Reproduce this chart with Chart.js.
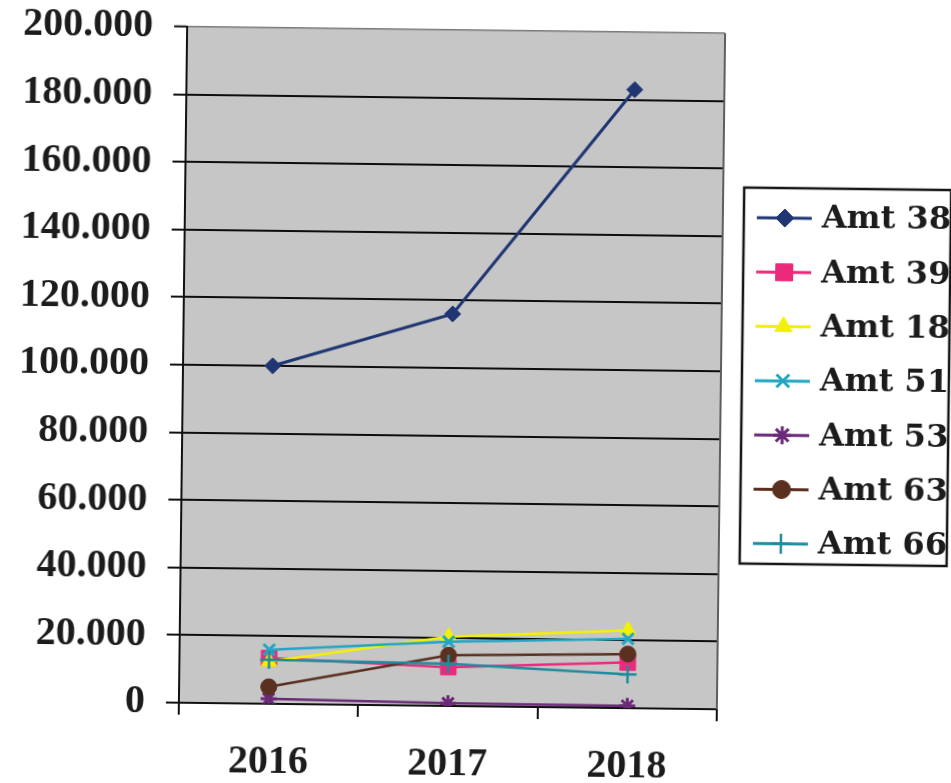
<!DOCTYPE html>
<html>
<head>
<meta charset="utf-8">
<script src="https://cdn.jsdelivr.net/npm/chart.js@4/dist/chart.umd.min.js"></script>
<style>
  html, body { margin: 0; padding: 0; background: #fff; overflow: hidden; }
  #wrap { position: relative; width: 951px; height: 783px; }
  #c { position: absolute; left: 0; top: 0; transform: rotate(0.7deg); transform-origin: 452px 368px; }
</style>
</head>
<body>
<div id="wrap"><canvas id="c" width="951" height="783"></canvas></div>
<script>
// Yearly amounts per account
const years = ['2016', '2017', '2018'];
const seriesNames = ['Amt 38', 'Amt 39', 'Amt 18', 'Amt 51', 'Amt 53', 'Amt 63', 'Amt 66'];
const amt38 = [100000, 116000, 183000];
const amt39 = [13500, 11500, 13500];
const amt18 = [12500, 20500, 23000];
const amt51 = [16000, 19000, 20500];
const amt53 = [1500, 800, 700];
const amt63 = [5000, 15000, 16000];
const amt66 = [13000, 12500, 10000];
const yMax = 200000;
const yStep = 20000;

const seriesValues = [amt38, amt39, amt18, amt51, amt53, amt63, amt66];

// Look of each series: line colour, marker shape, marker size
const looks = [
  { color: '#1f3672', point: 'rectRot',  r: 8,  bw: 1,   lw: 3 },
  { color: '#ec2a7c', point: 'rect',     r: 11, bw: 1,   lw: 2.5 },
  { color: '#f2f200', point: 'triangle', r: 9,  bw: 1,   lw: 2.5 },
  { color: '#22a6c4', point: 'crossRot', r: 8,  bw: 3,   lw: 2.5 },
  { color: '#6a2a78', point: 'star',     r: 8,  bw: 3,   lw: 2.5 },
  { color: '#5a3020', point: 'circle',   r: 8,  bw: 1,   lw: 2.5 },
  { color: '#1e8c9e', point: 'cross',    r: 9,  bw: 2.5, lw: 2.5 }
];

// 200000 -> "200.000"
const fmt = v => String(v).replace(/\B(?=(\d{3})+(?!\d))/g, '.');

const datasets = seriesNames.map((name, i) => ({
  label: name,
  data: seriesValues[i],
  borderColor: looks[i].color,
  backgroundColor: looks[i].color,
  borderWidth: looks[i].lw,
  pointStyle: looks[i].point,
  pointRadius: looks[i].r,
  pointBorderWidth: looks[i].bw,
  pointBackgroundColor: looks[i].color,
  pointBorderColor: looks[i].color,
  fill: false,
  tension: 0,
  order: seriesNames.length - i
}));

const plotBackground = {
  id: 'plotBackground',
  beforeDraw(chart) {
    const { ctx, chartArea: a } = chart;
    ctx.save();
    ctx.fillStyle = '#c6c6c6';
    ctx.fillRect(a.left, a.top, a.right - a.left, a.bottom - a.top);
    ctx.restore();
  },
  beforeDatasetsDraw(chart) {
    const { ctx, chartArea: a } = chart;
    ctx.save();
    ctx.strokeStyle = '#5e5e5e';
    ctx.lineWidth = 2;
    ctx.beginPath();
    ctx.moveTo(a.right, a.top);
    ctx.lineTo(a.right, a.bottom);
    ctx.stroke();
    ctx.restore();
  }
};

// Boxed legend on the right: line with marker, then the series name
const boxLegend = {
  id: 'boxLegend',
  afterDraw(chart) {
    const ctx = chart.ctx;
    const left = 742, top = 184, w = 207, h = 376;
    ctx.save();
    ctx.fillStyle = '#ffffff';
    ctx.fillRect(left, top, w, h);
    ctx.strokeStyle = '#151515';
    ctx.lineWidth = 2.5;
    ctx.strokeRect(left, top, w, h);
    chart.data.datasets.forEach((ds, i) => {
      const y = top + 30 + i * 54.3;
      ctx.strokeStyle = ds.borderColor;
      ctx.lineWidth = 3;
      ctx.beginPath();
      ctx.moveTo(755, y);
      ctx.lineTo(810, y);
      ctx.stroke();
      ctx.fillStyle = ds.pointBackgroundColor;
      ctx.strokeStyle = ds.pointBorderColor;
      ctx.lineWidth = ds.pointBorderWidth;
      if (Chart.helpers && Chart.helpers.drawPoint) {
        Chart.helpers.drawPoint(ctx, {
          pointStyle: ds.pointStyle,
          radius: ds.pointRadius + 1,
          rotation: 0,
          borderWidth: ds.pointBorderWidth
        }, 783, y);
      }
      ctx.fillStyle = '#1c1c1c';
      ctx.font = 'bold 32px "DejaVu Serif"';
      ctx.textBaseline = 'middle';
      ctx.textAlign = 'left';
      ctx.fillText(ds.label, 820, y + 1);
    });
    ctx.restore();
  }
};

const axisFont = { family: '"Liberation Serif", serif', size: 40, weight: 'bold' };

new Chart(document.getElementById('c'), {
  type: 'line',
  data: { labels: years, datasets },
  options: {
    responsive: false,
    animation: false,
    layout: { padding: { top: 30, right: 230, left: 0, bottom: 0 } },
    plugins: { legend: { display: false }, tooltip: { enabled: false } },
    scales: {
      x: {
        offset: true,
        grid: { offset: true, drawOnChartArea: false, drawTicks: true, tickLength: 12, color: '#111', lineWidth: 2 },
        border: { color: '#111', width: 2 },
        ticks: { font: axisFont, color: '#1c1c1c', padding: 23 },
        afterFit: s => { s.height = 77; s.paddingLeft = 0; s.paddingRight = 0; }
      },
      y: {
        min: 0,
        max: yMax,
        ticks: { stepSize: yStep, font: axisFont, color: '#1c1c1c', padding: 21, callback: v => fmt(v) },
        grid: {
          color: c => (c.tick && c.tick.value === yMax) ? '#7a7a7a' : '#0d0d0d',
          lineWidth: c => (c.tick && c.tick.value === yMax) ? 1.5 : 2,
          tickColor: '#111',
          tickWidth: 2,
          tickLength: 13,
          drawTicks: true
        },
        border: { color: '#111', width: 2 },
        afterFit: s => { s.width = 183; s.paddingTop = 0; s.paddingBottom = 0; }
      }
    }
  },
  plugins: [plotBackground, boxLegend]
});
</script>
</body>
</html>
